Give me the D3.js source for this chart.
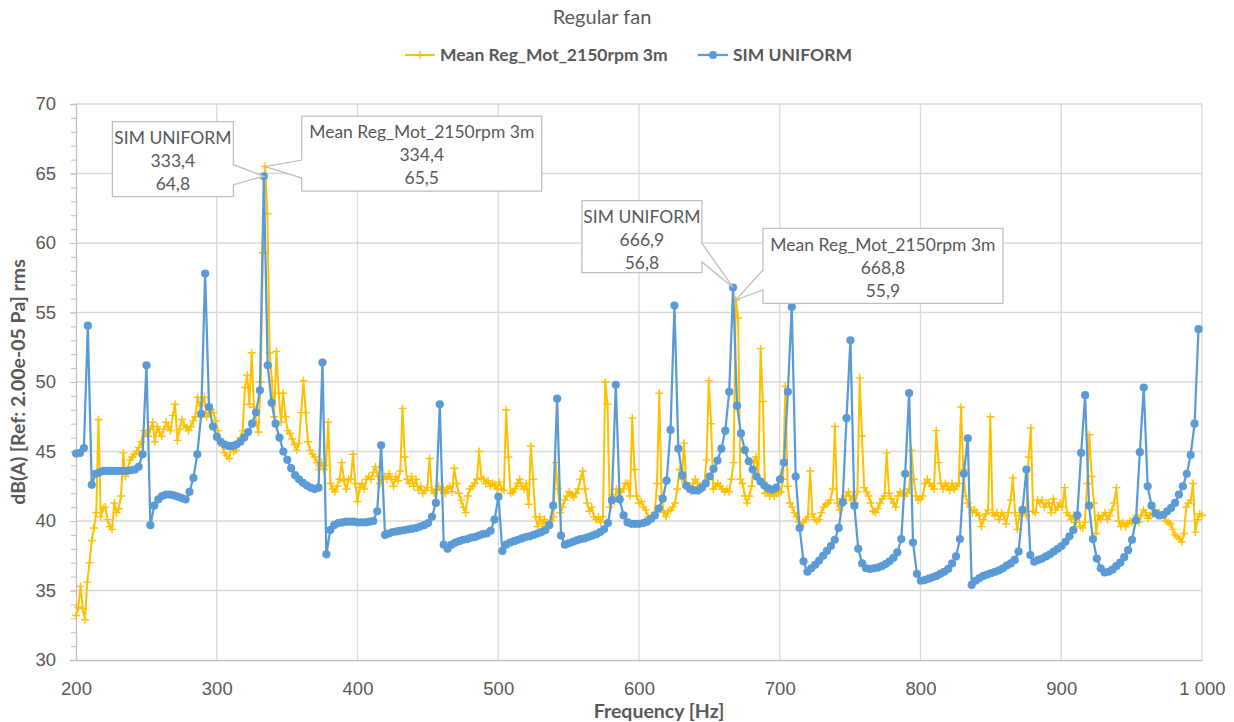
<!DOCTYPE html>
<html>
<head>
<meta charset="utf-8">
<script src="https://cdn.jsdelivr.net/npm/d3@7"></script>
<style>
  body { margin: 0; background: #ffffff; }
  svg { display: block; font-family: Lato, "Open Sans", sans-serif; }
</style>
</head>
<body>
<svg id="chart" width="1234" height="722"></svg>
<script>
// Series names
const meanName = "Mean Reg_Mot_2150rpm 3m";
const simName = "SIM UNIFORM";

// Measured spectrum: one value every 1.6 Hz from 200 Hz
const meanStartHz = 200;
const meanStepHz = 1.6;
const meanDb = [
  33.2, 33.8, 35.3, 33.7, 32.9, 35.6, 37.0, 38.6, 39.5, 40.6,
  47.3, 40.3, 40.9, 41.0, 40.1, 39.6, 39.4, 41.3, 40.6, 40.9,
  41.8, 44.9, 43.2, 43.7, 44.4, 44.6, 44.8, 45.0, 45.3, 45.7,
  46.5, 46.3, 46.1, 46.6, 47.1, 45.7, 46.8, 46.4, 46.1, 46.6,
  47.1, 46.8, 46.5, 47.6, 48.4, 45.8, 46.6, 47.3, 46.9, 46.7,
  46.5, 46.8, 47.2, 47.5, 48.9, 48.3, 48.5, 48.9, 47.5, 47.8,
  48.0, 47.8, 47.2, 46.5, 45.8, 45.4, 44.9, 44.7, 44.5, 45.4,
  45.0, 45.1, 45.6, 46.0, 46.5, 49.6, 50.5, 48.4, 52.1, 48.2,
  47.1, 46.4, 50.0, 59.3, 65.5, 62.1, 52.1, 50.1, 47.5, 52.2,
  49.2, 47.1, 49.2, 47.5, 46.5, 46.3, 45.9, 45.5, 45.1, 45.6,
  47.8, 50.1, 47.8, 45.7, 45.1, 44.8, 44.6, 44.2, 43.7, 44.2,
  43.7, 44.0, 47.1, 42.7, 42.3, 42.1, 42.5, 43.0, 44.2, 42.9,
  42.3, 43.0, 43.0, 44.8, 42.7, 41.4, 42.4, 42.7, 42.3, 43.0,
  43.2, 43.0, 43.5, 43.9, 43.2, 42.7, 43.0, 43.2, 43.0, 43.4,
  43.0, 42.5, 43.2, 42.9, 43.6, 48.1, 44.6, 43.0, 42.7, 43.2,
  42.5, 43.0, 42.2, 42.5, 42.0, 42.2, 42.4, 44.5, 42.2, 42.0,
  42.3, 42.5, 42.2, 42.4, 42.0, 42.3, 42.5, 42.1, 43.8, 42.7,
  42.0, 41.5, 41.0, 40.6, 41.8, 42.3, 42.5, 42.7, 43.0, 45.0,
  43.1, 43.0, 42.7, 42.9, 42.5, 42.7, 42.6, 42.3, 42.8, 42.3,
  42.2, 48.0, 44.6, 42.0, 42.1, 42.3, 42.7, 43.0, 42.5, 42.3,
  42.7, 41.2, 45.4, 43.0, 40.3, 39.6, 40.3, 39.8, 40.1, 39.7,
  39.8, 40.0, 40.3, 44.2, 42.3, 40.6, 41.0, 41.5, 41.8, 42.1,
  41.9, 41.7, 42.0, 42.3, 43.0, 43.6, 42.3, 41.3, 40.7, 41.0,
  40.3, 40.1, 40.3, 39.9, 40.3, 50.0, 48.4, 41.0, 41.9, 41.4,
  42.3, 41.8, 42.1, 42.3, 42.7, 42.7, 41.8, 47.4, 43.7, 41.8,
  41.3, 41.4, 41.0, 40.8, 40.3, 40.1, 40.4, 40.6, 42.7, 49.2,
  41.8, 40.6, 40.3, 40.7, 40.8, 41.0, 41.3, 42.3, 43.7, 43.0,
  45.6, 42.7, 42.3, 42.1, 42.7, 43.0, 42.7, 42.5, 42.3, 42.7,
  44.4, 50.1, 47.0, 42.3, 42.5, 42.7, 42.5, 42.3, 42.1, 42.3,
  42.1, 43.0, 44.2, 55.9, 54.6, 43.0, 42.7, 41.8, 41.3, 41.8,
  42.5, 44.2, 44.6, 43.0, 52.4, 48.6, 42.0, 42.1, 41.8, 42.1,
  41.8, 42.0, 42.0, 42.1, 43.0, 49.7, 42.5, 41.3, 41.0, 40.6,
  40.3, 39.9, 39.6, 39.9, 40.1, 40.3, 43.6, 40.5, 40.1, 40.0,
  40.1, 40.6, 41.0, 41.2, 41.3, 41.5, 42.3, 46.8, 41.3, 40.8,
  41.6, 41.3, 41.8, 42.1, 41.5, 41.8, 41.3, 42.1, 50.3, 46.1,
  42.4, 42.1, 41.8, 41.3, 40.7, 40.6, 40.9, 41.3, 41.6, 41.8,
  44.9, 42.0, 41.6, 41.3, 41.0, 41.8, 42.1, 42.0, 41.8, 42.0,
  42.3, 45.1, 43.0, 41.8, 41.5, 41.6, 41.8, 42.7, 43.0, 42.7,
  42.5, 42.3, 46.5, 44.2, 42.7, 42.3, 42.7, 42.5, 42.2, 42.7,
  42.3, 42.5, 42.7, 48.2, 43.7, 41.8, 41.3, 41.0, 40.6, 40.8,
  40.6, 40.4, 39.6, 40.1, 40.5, 40.8, 47.5, 40.6, 40.4, 40.6,
  40.1, 40.6, 40.4, 39.8, 40.6, 41.5, 43.1, 40.6, 39.4, 40.4,
  40.6, 40.8, 40.4, 44.6, 46.7, 40.7, 40.6, 41.5, 41.3, 41.5,
  41.0, 41.3, 41.3, 40.6, 41.6, 40.8, 41.0, 41.3, 41.0, 42.4,
  40.6, 40.4, 40.1, 40.4, 39.9, 40.4, 39.6, 39.5, 39.9, 42.7,
  46.2, 43.2, 41.3, 39.1, 40.4, 40.1, 40.4, 40.6, 40.1, 40.4,
  40.8, 41.3, 42.4, 40.0, 39.6, 39.9, 39.6, 39.8, 40.0, 39.9,
  40.1, 40.4, 39.9, 40.4, 40.8, 40.6, 40.2, 40.4, 40.5, 40.8,
  40.4, 40.6, 40.4, 40.4, 40.0, 39.9, 39.8, 39.4, 39.0, 38.9,
  38.7, 38.5, 39.1, 41.0, 41.3, 41.5, 42.7, 39.2, 40.1, 40.5,
  40.4
];

// Simulation: bins of 2.7786 Hz, first bin shown is number 72
const simFirstBin = 72;
const simStepHz = 2.7786;
const simDb = [
  44.85, 44.9, 45.25, 54.05,
  42.6, 43.4, 43.5, 43.6, 43.6, 43.6, 43.6, 43.6, 43.6, 43.6, 43.65, 43.7, 43.9, 44.8, 51.2,
  39.7, 41.1, 41.55, 41.8, 41.9, 41.9, 41.85, 41.75, 41.65, 41.55, 42.1, 43.1, 44.8, 47.7, 57.8,
  48.2, 46.8, 46.05, 45.7, 45.5, 45.4, 45.4, 45.5, 45.7, 46.0, 46.4, 47.0, 47.8, 49.4, 64.8,
  51.2, 48.5, 47.0, 46.0, 45.0, 44.4, 43.8, 43.3, 43.0, 42.75, 42.55, 42.4, 42.3, 42.4, 51.4,
  37.6, 39.35, 39.7, 39.85, 39.9, 39.95, 39.95, 39.95, 39.9, 39.9, 39.9, 39.95, 40.0, 40.7, 45.45,
  39.0, 39.1, 39.2, 39.25, 39.3, 39.35, 39.4, 39.45, 39.5, 39.6, 39.7, 39.85, 40.3, 41.3, 48.4,
  38.3, 38.0, 38.3, 38.45, 38.55, 38.65, 38.7, 38.8, 38.85, 38.95, 39.05, 39.1, 39.3, 40.1, 41.75,
  37.85, 38.3, 38.45, 38.55, 38.65, 38.75, 38.85, 38.9, 39.0, 39.1, 39.2, 39.35, 39.7, 41.1, 48.8,
  38.95, 38.3, 38.4, 38.5, 38.6, 38.7, 38.75, 38.85, 38.95, 39.05, 39.2, 39.4, 39.85, 41.5, 49.8,
  41.55, 40.4, 39.9, 39.8, 39.8, 39.8, 39.85, 39.95, 40.15, 40.4, 40.9, 41.6, 42.9, 46.55, 55.5,
  45.2, 43.3, 42.55, 42.3, 42.2, 42.2, 42.4, 42.7, 43.2, 43.75, 44.35, 45.2, 46.5, 49.3, 56.8,
  48.3, 46.3, 45.1, 44.3, 43.7, 43.2, 42.85, 42.55, 42.35, 42.25, 42.4, 43.0, 44.2, 49.3, 55.4,
  43.2, 39.5, 37.1, 36.35, 36.6, 36.85, 37.15, 37.5, 37.85, 38.2, 38.65, 39.5, 41.35, 47.4, 53.0,
  41.1, 38.0, 36.95, 36.6, 36.55, 36.6, 36.65, 36.75, 36.9, 37.1, 37.35, 37.75, 38.7, 43.4, 49.2,
  38.45, 36.2, 35.7, 35.75, 35.85, 35.95, 36.05, 36.2, 36.35, 36.55, 36.95, 37.45, 38.7, 43.4, 45.95,
  35.4, 35.7, 35.9, 36.05, 36.15, 36.25, 36.35, 36.45, 36.6, 36.8, 36.95, 37.2, 37.8, 40.8, 43.7,
  37.55, 37.07, 37.2, 37.3, 37.45, 37.6, 37.8, 38.0, 38.2, 38.5, 38.9, 39.35, 40.4, 44.9, 49.05,
  41.1, 38.7, 37.3, 36.6, 36.3, 36.35, 36.5, 36.75, 37.0, 37.4, 37.9, 38.65, 40.05, 44.95, 49.6,
  42.5, 41.1, 40.55, 40.4, 40.45, 40.7, 40.95, 41.3, 41.9, 42.5, 43.4, 44.75, 47.0, 53.8
];

// Axis ticks
const xTicks = [200, 300, 400, 500, 600, 700, 800, 900, 1000];
const yTicks = [30, 35, 40, 45, 50, 55, 60, 65, 70];
const yMinorTicks = d3.range(30, 71, 1);

// Labelled points: series and index in its array
const calloutPoints = [
  { series: "sim", index: 48 },
  { series: "mean", index: 84 },
  { series: "sim", index: 168 },
  { series: "mean", index: 293 },
];

const colors = { mean: "#FFC000", sim: "#5B9BD5", text: "#595959", grid: "#D9D9D9", axis: "#BFBFBF" };

const locale = d3.formatLocale({ decimal: ",", thousands: "\u00a0", grouping: [3], currency: ["", ""] });
const fmtTick = locale.format(",d");
const fmt1 = locale.format(".1f");

const plusMark = "M-4,0H4M0,-4V4";

function drawChart() {
  const svg = d3.select("#chart");
  const plot = { left: 76, right: 1202, top: 104, bottom: 660 };

  const x = d3.scaleLinear().domain([200, 1000]).range([plot.left, plot.right]);
  const y = d3.scaleLinear().domain([30, 70]).range([plot.bottom, plot.top]);

  const meanData = meanDb.map((v, i) => ({ f: meanStartHz + i * meanStepHz, v: v }));
  const simData = simDb.map((v, i) => ({ f: (simFirstBin + i) * simStepHz, v: v }));

  // gridlines
  svg.append("g")
    .selectAll("line")
    .data(yTicks.filter((d) => d > 30))
    .enter()
    .append("line")
    .attr("x1", plot.left).attr("x2", plot.right)
    .attr("y1", (d) => y(d)).attr("y2", (d) => y(d))
    .attr("stroke", colors.grid).attr("stroke-width", 1.3);

  svg.append("g")
    .selectAll("line")
    .data(xTicks.filter((d) => d > 200))
    .enter()
    .append("line")
    .attr("x1", (d) => x(d)).attr("x2", (d) => x(d))
    .attr("y1", plot.top).attr("y2", plot.bottom)
    .attr("stroke", colors.grid).attr("stroke-width", 1.3);

  // y axis with minor ticks
  const yMinor = svg.append("g")
    .attr("transform", `translate(${plot.left},0)`)
    .call(d3.axisLeft(y).tickValues(yMinorTicks).tickSize(5).tickFormat(""));
  yMinor.select(".domain").remove();
  yMinor.selectAll("line").attr("stroke", colors.axis);

  const yAxis = svg.append("g")
    .attr("transform", `translate(${plot.left},0)`)
    .call(d3.axisLeft(y).tickValues(yTicks).tickSize(6).tickPadding(14));
  yAxis.select(".domain").attr("stroke", colors.axis).attr("stroke-width", 1.3);
  yAxis.selectAll("line").attr("stroke", colors.axis);
  yAxis.selectAll("text").attr("fill", colors.text).style("font-size", "18.5px");

  const xAxis = svg.append("g")
    .attr("transform", `translate(0,${plot.bottom})`)
    .call(d3.axisBottom(x).tickValues(xTicks).tickSize(0).tickPadding(22).tickFormat(fmtTick));
  xAxis.select(".domain").attr("stroke", colors.axis).attr("stroke-width", 1.3);
  xAxis.selectAll("text").attr("fill", colors.text).style("font-size", "18.5px");

  // measured series
  const line = d3.line().x((d) => x(d.f)).y((d) => y(d.v));

  svg.append("path")
    .datum(meanData)
    .attr("fill", "none")
    .attr("stroke", colors.mean)
    .attr("stroke-width", 2)
    .attr("stroke-linejoin", "round")
    .attr("d", line);

  svg.append("g")
    .selectAll("path")
    .data(meanData)
    .enter()
    .append("path")
    .attr("transform", (d) => `translate(${x(d.f)},${y(d.v)})`)
    .attr("d", plusMark)
    .attr("stroke", colors.mean)
    .attr("stroke-width", 1.4);

  // simulated series
  svg.append("path")
    .datum(simData)
    .attr("fill", "none")
    .attr("stroke", colors.sim)
    .attr("stroke-width", 2.25)
    .attr("stroke-linejoin", "round")
    .attr("d", line);

  svg.append("g")
    .selectAll("circle")
    .data(simData)
    .enter()
    .append("circle")
    .attr("cx", (d) => x(d.f))
    .attr("cy", (d) => y(d.v))
    .attr("r", 4.1)
    .attr("fill", colors.sim);

  // callouts (box offsets from the point they label)
  const calloutBoxes = [
    { dx: -151.4, dy: -54.6, w: 121, h: 75, side: "right", w1: 43, w2: 63 },
    { dx: 36.6, dy: -50.5, w: 240, h: 75, side: "left", w1: 44, w2: 62 },
    { dx: -151.2, dy: -86.8, w: 120, h: 72, side: "right", w1: 42.6, w2: 61.3 },
    { dx: 27.1, dy: -71.7, w: 240, h: 75, side: "left", w1: 41.7, w2: 61.7 },
  ];

  calloutPoints.forEach((c, n) => {
    const d = c.series === "sim" ? simData[c.index] : meanData[c.index];
    const ax = x(d.f), ay = y(d.v);
    const b = calloutBoxes[n];
    const bx = ax + b.dx, by = ay + b.dy;
    let pts;
    if (b.side === "right") {
      pts = [[bx, by], [bx + b.w, by], [bx + b.w, by + b.w1], [ax, ay],
             [bx + b.w, by + b.w2], [bx + b.w, by + b.h], [bx, by + b.h]];
    } else {
      pts = [[bx, by], [bx + b.w, by], [bx + b.w, by + b.h], [bx, by + b.h],
             [bx, by + b.w2], [ax, ay], [bx, by + b.w1]];
    }
    svg.append("path")
      .attr("d", d3.line()(pts) + "Z")
      .attr("fill", "#ffffff")
      .attr("stroke", colors.axis)
      .attr("stroke-width", 1.3);

    const lines = [c.series === "sim" ? simName : meanName, fmt1(d.f), fmt1(d.v)];
    svg.append("g")
      .selectAll("text")
      .data(lines)
      .enter()
      .append("text")
      .attr("x", bx + b.w / 2)
      .attr("y", (t, i) => by + 16 + i * 23)
      .attr("dy", "0.36em")
      .attr("text-anchor", "middle")
      .attr("fill", colors.text)
      .style("font-size", "17.5px")
      .text((t) => t);
  });

  // legend
  const legend = svg.append("g").attr("transform", "translate(0,55)");
  legend.append("line").attr("x1", 405).attr("x2", 435)
    .attr("stroke", colors.mean).attr("stroke-width", 2);
  legend.append("path").attr("transform", "translate(420,0)")
    .attr("d", plusMark).attr("stroke", colors.mean).attr("stroke-width", 1.4);
  legend.append("text").attr("x", 440).attr("dy", "0.36em")
    .attr("fill", colors.text).style("font-size", "17.5px").style("font-weight", "bold")
    .text(meanName);
  legend.append("line").attr("x1", 698).attr("x2", 728)
    .attr("stroke", colors.sim).attr("stroke-width", 2.25);
  legend.append("circle").attr("cx", 713).attr("r", 4.1).attr("fill", colors.sim);
  legend.append("text").attr("x", 733).attr("dy", "0.36em")
    .attr("fill", colors.text).style("font-size", "17.5px").style("font-weight", "bold")
    .text(simName);

  // titles
  svg.append("text")
    .attr("x", 602).attr("y", 17).attr("dy", "0.36em")
    .attr("text-anchor", "middle").attr("fill", colors.text)
    .style("font-size", "20px")
    .text("Regular fan");

  svg.append("text")
    .attr("x", 659).attr("y", 711).attr("dy", "0.36em")
    .attr("text-anchor", "middle").attr("fill", colors.text)
    .style("font-size", "19.5px").style("font-weight", "bold")
    .text("Frequency [Hz]");

  svg.append("text")
    .attr("transform", "translate(18,382) rotate(-90)")
    .attr("dy", "0.36em")
    .attr("text-anchor", "middle").attr("fill", colors.text)
    .style("font-size", "19.5px").style("font-weight", "bold")
    .text("dB(A) [Ref: 2.00e-05 Pa] rms");
}

drawChart();
</script>
</body>
</html>
